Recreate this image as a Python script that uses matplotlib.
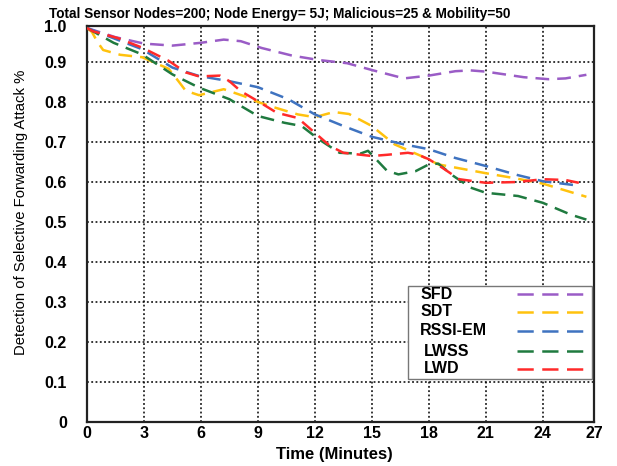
import matplotlib.pyplot as plt
from matplotlib.patches import Rectangle

plt.rcParams['font.family'] = ['Liberation Sans', 'DejaVu Sans']

title = "Total Sensor Nodes=200; Node Energy= 5J; Malicious=25 & Mobility=50"
x_label = "Time (Minutes)"
y_label = "Detection of Selective Forwarding Attack %"

series_names = ["SFD", "SDT", "RSSI-EM", "LWSS", "LWD"]
series_colors = ["#9a5cc6", "#ffc20e", "#3f73c0", "#1f7a3f", "#ff2a2a"]

sfd_t = [0, 1.5, 3, 4.5, 6, 7.2, 8.1, 9.2, 10.8, 12.2, 13.7, 15, 16.7, 18, 19.4,
         20.2, 21, 23, 24.3, 25.2, 26.3]
sfd_v = [0.985, 0.962, 0.946, 0.941, 0.948, 0.956, 0.952, 0.935, 0.916, 0.905,
         0.897, 0.88, 0.859, 0.866, 0.877, 0.879, 0.876, 0.862, 0.857, 0.859, 0.868]

sdt_t = [0, 0.26, 0.55, 0.85, 1.75, 2.9, 4.3, 4.8, 5.2, 5.9, 7.2, 8.25, 9, 9.9,
         11.1, 12, 13, 13.8, 15, 16.2, 17.6, 18.5, 21, 22.7, 24, 26.3]
sdt_v = [0.985, 0.975, 0.95, 0.93, 0.918, 0.912, 0.883, 0.853, 0.828, 0.817,
         0.832, 0.815, 0.8, 0.786, 0.769, 0.762, 0.775, 0.77, 0.74, 0.694, 0.665,
         0.644, 0.622, 0.608, 0.596, 0.563]

rssi_t = [0, 1.8, 2.9, 4.5, 5.9, 7.5, 9, 10.6, 12, 13.5, 15, 16.7, 18, 19.4, 21,
          22.7, 24, 25.7]
rssi_v = [0.985, 0.952, 0.932, 0.886, 0.865, 0.852, 0.837, 0.807, 0.769, 0.74,
          0.713, 0.694, 0.682, 0.66, 0.64, 0.617, 0.602, 0.592]

lwss_t = [0, 1.4, 2.9, 4.5, 5.9, 7.5, 9, 10.4, 11.3, 12.2, 13.3, 14.4, 14.8, 15.8,
          16.4, 17.3, 18, 18.5, 19.3, 20.2, 21, 22.7, 24, 25.5, 26.3]
lwss_v = [0.985, 0.948, 0.919, 0.869, 0.836, 0.807, 0.765, 0.748, 0.74, 0.707,
          0.673, 0.671, 0.678, 0.628, 0.619, 0.627, 0.644, 0.646, 0.615, 0.586,
          0.573, 0.565, 0.548, 0.518, 0.506]

lwd_t = [0, 0.3, 1.6, 2.9, 4.3, 5.2, 5.9, 7, 7.5, 8.1, 9, 10, 11.1, 12, 12.8, 13.5,
         15, 15.8, 16.9, 17.4, 18, 18.7, 19.6, 21, 22.7, 24, 25.2, 25.9]
lwd_v = [0.985, 0.977, 0.96, 0.936, 0.903, 0.874, 0.864, 0.866, 0.852, 0.827,
         0.802, 0.773, 0.76, 0.723, 0.69, 0.673, 0.665, 0.668, 0.673, 0.669, 0.657,
         0.636, 0.607, 0.598, 0.6, 0.607, 0.605, 0.598]

x_ticks = [0, 3, 6, 9, 12, 15, 18, 21, 24, 27]
y_ticks = [0, 0.1, 0.2, 0.3, 0.4, 0.5, 0.6, 0.7, 0.8, 0.9, 1.0]
y_tick_labels = ["0", "0.1", "0.2", "0.3", "0.4", "0.5", "0.6", "0.7", "0.8", "0.9", "1.0"]

# the frame is slightly cropped: last tick labels sit on the border
x_max = 26.7
y_max = 0.99

fig, ax = plt.subplots(figsize=(6.17, 4.66), dpi=100)
fig.subplots_adjust(left=87 / 617, right=594 / 617, top=1 - 26 / 466, bottom=1 - 422 / 466)

dash = (0, (5.5, 3.2))
series = [(sfd_t, sfd_v), (sdt_t, sdt_v), (rssi_t, rssi_v), (lwss_t, lwss_v), (lwd_t, lwd_v)]
for (t, v), name, col in zip(series, series_names, series_colors):
    ax.plot(t, v, color=col, lw=1.8, linestyle=dash, label=name, zorder=3)

ax.set_xlim(0, x_max)
ax.set_ylim(0, y_max)
ax.set_xticks([min(t, x_max) for t in x_ticks])
ax.set_xticklabels([str(t) for t in x_ticks])
ax.set_yticks([min(t, y_max) for t in y_ticks])
ax.set_yticklabels(y_tick_labels)
for lab in ax.get_xticklabels() + ax.get_yticklabels():
    lab.set_fontweight('bold')
    lab.set_fontsize(11.5)
ax.tick_params(axis='both', length=0)
ax.tick_params(axis='y', pad=14.5)
ax.tick_params(axis='x', pad=3)

ax.grid(True, color='black', linestyle=(0, (1.2, 1.6)), lw=1.1)
for sp in ax.spines.values():
    sp.set_linewidth(1.6)
    sp.set_color('#222222')

ax.set_xlabel(x_label, fontsize=12, fontweight='bold')
ax.xaxis.set_label_coords(0.4885, -0.062)
ax.set_ylabel(y_label, fontsize=10.7)
ax.yaxis.set_label_coords(-0.116, 0.53)
fig.text(280 / 617, 1 - 14 / 466, title, ha='center', va='center',
         fontsize=9.8, fontweight='bold')

# legend: labels on the left, dashed samples on the right
ax.add_patch(Rectangle((0.633, 0.109), 0.363, 0.234, transform=ax.transAxes,
                       facecolor='white', edgecolor='#777777', lw=1, zorder=5))
row_y = [0.323, 0.278, 0.230, 0.179, 0.134]
text_x = [0.657, 0.657, 0.657, 0.665, 0.665]
for name, col, ry, tx in zip(series_names, series_colors, row_y, text_x):
    ax.text(tx, ry, name, transform=ax.transAxes, ha='left', va='center',
            fontsize=11.5, fontweight='bold', zorder=6)
    ax.plot([0.848, 0.978], [ry, ry], transform=ax.transAxes, color=col,
            lw=1.8, linestyle=(0, (6.5, 3.4)), zorder=6, clip_on=False)

fig.savefig("out.png", dpi=100)
